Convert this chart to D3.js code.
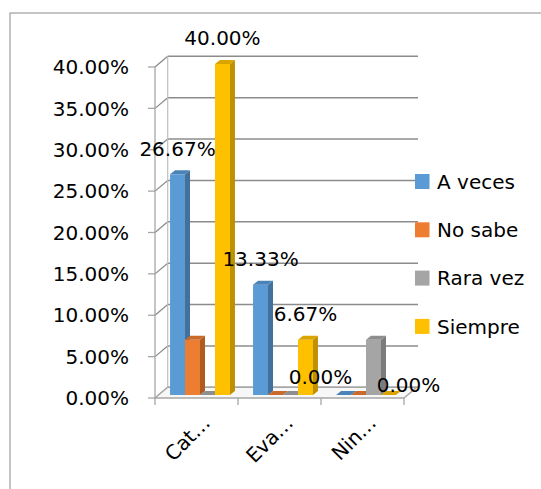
<!DOCTYPE html>
<html>
<head>
<meta charset="utf-8">
<script src="https://cdn.jsdelivr.net/npm/d3@7"></script>
<style>
  body { margin: 0; background: #fff; }
  svg { display: block; font-family: "DejaVu Sans", sans-serif; }
</style>
</head>
<body>
<svg width="541" height="489"></svg>
<script>
// data
let categories = ["Cat\u2026", "Eva\u2026", "Nin\u2026"];
let seriesNames = ["A veces", "No sabe", "Rara vez", "Siempre"];
let aVeces = [26.67, 13.33, 0];
let noSabe = [6.67, 0, 0];
let raraVez = [0, 0, 6.67];
let siempre = [40, 6.67, 0];
let yTicks = [0, 5, 10, 15, 20, 25, 30, 35, 40];

let seriesValues = [aVeces, noSabe, raraVez, siempre];
let labelled = ["A veces", "Siempre"];

let colors = {
  "A veces": ["#5B9BD5", "#41719C", "#4A83B8"],
  "No sabe": ["#ED7D31", "#AE5A21", "#C9692A"],
  "Rara vez": ["#A5A5A5", "#7B7B7B", "#8E8E8E"],
  "Siempre": ["#FFC000", "#BF9000", "#D9A300"]
};

let svg = d3.select("svg");
let fmt = v => d3.format(".2%")(v / 100);

// chart frame (runs off right/bottom)
svg.append("rect")
  .attr("x", 10).attr("y", 13)
  .attr("width", 600).attr("height", 600)
  .attr("fill", "none").attr("stroke", "#a6a6a6").attr("stroke-width", 1.3);

let x = d3.scaleBand().domain(categories).range([155, 404]);
let xs = d3.scaleBand().domain(seriesNames).range([0, x.bandwidth()])
  .paddingInner(0).paddingOuter(0.77);
let y = d3.scaleLinear().domain([0, 40]).range([398, 67]);

let dx = 12.7, dy = -10.7;   // wall depth
let wallRight = 418;
let gridColor = "#8c8c8c";

// back wall gridlines
let walls = svg.append("g");
walls.selectAll(".grid").data(yTicks).enter().append("line")
  .attr("x1", 155 + dx).attr("x2", wallRight)
  .attr("y1", d => y(d) + dy).attr("y2", d => y(d) + dy)
  .attr("stroke", gridColor).attr("stroke-width", 1.6);

// side wall diagonals
walls.selectAll(".side").data(yTicks).enter().append("line")
  .attr("x1", 155).attr("x2", 155 + dx)
  .attr("y1", d => y(d)).attr("y2", d => y(d) + dy)
  .attr("stroke", gridColor).attr("stroke-width", 1.3);

// back wall left edge
walls.append("line")
  .attr("x1", 155 + dx).attr("x2", 155 + dx)
  .attr("y1", y(40) + dy).attr("y2", y(0) + dy)
  .attr("stroke", "#bfbfbf").attr("stroke-width", 1.2);

// front value axis + ticks
walls.append("line")
  .attr("x1", 155).attr("x2", 155)
  .attr("y1", y(40)).attr("y2", y(0))
  .attr("stroke", "#a6a6a6").attr("stroke-width", 1.3);
walls.selectAll(".tick").data(yTicks).enter().append("line")
  .attr("x1", 148).attr("x2", 155)
  .attr("y1", d => y(d)).attr("y2", d => y(d))
  .attr("stroke", "#a6a6a6").attr("stroke-width", 1.3);

// floor
walls.append("path")
  .attr("d", `M155,${y(0)}L404,${y(0)}L${404 + dx},${y(0) + dy}L${155 + dx},${y(0) + dy}Z`)
  .attr("fill", "#f7f7f7").attr("stroke", "#a6a6a6").attr("stroke-width", 1.3);

// category ticks
walls.selectAll(".ctick").data(d3.range(categories.length + 1)).enter().append("line")
  .attr("x1", i => 155 + i * x.step()).attr("x2", i => 155 + i * x.step())
  .attr("y1", y(0)).attr("y2", y(0) + 7)
  .attr("stroke", "#a6a6a6").attr("stroke-width", 1.3);

// y tick labels
svg.selectAll(".ylab").data(yTicks).enter().append("text")
  .attr("x", 129).attr("y", d => y(d))
  .attr("dy", "0.36em")
  .attr("text-anchor", "end")
  .attr("font-size", 20)
  .attr("fill", "#000")
  .text(fmt);

// category labels
svg.selectAll(".clab").data(categories).enter().append("text")
  .attr("transform", d => `translate(${x(d) + x.bandwidth() / 2 + 15},${y(0) + 26}) rotate(-45)`)
  .attr("text-anchor", "end")
  .attr("font-size", 20)
  .attr("fill", "#000")
  .text(d => d);

// bars
let fx = 3.5, fy = -3;  // bar front offset into depth
let bdx = 5, bdy = -4;  // bar depth
let bars = [];
categories.forEach((c, ci) => {
  seriesNames.forEach((s, si) => {
    bars.push({cat: c, series: s, value: seriesValues[si][ci]});
  });
});

let w = xs.bandwidth();
let barG = svg.append("g");
bars.forEach(b => {
  let bx = x(b.cat) + xs(b.series) + fx;
  let y0 = y(0) + fy;
  let yt = y(b.value) + fy;
  let col = colors[b.series];
  let g = barG.append("g");
  if (b.value > 0) {
    g.append("rect")
      .attr("x", bx).attr("y", yt)
      .attr("width", w).attr("height", y0 - yt)
      .attr("fill", col[0]);
    g.append("path")
      .attr("d", `M${bx + w},${yt}L${bx + w + bdx},${yt + bdy}L${bx + w + bdx},${y0 + bdy}L${bx + w},${y0}Z`)
      .attr("fill", col[1]);
  }
  g.append("path")
    .attr("d", `M${bx},${yt}L${bx + bdx},${yt + bdy}L${bx + w + bdx},${yt + bdy}L${bx + w},${yt}Z`)
    .attr("fill", col[2]);
  b.cx = bx + w / 2;
  b.top = yt;
});

// data labels (zero labels get pushed aside like in the original)
let nudge = {"A veces|Nin\u2026": [-23, 8], "Siempre|Nin\u2026": [20, 16]};
svg.selectAll(".dlab").data(bars.filter(b => labelled.includes(b.series))).enter().append("text")
  .attr("x", b => b.cx + (nudge[b.series + "|" + b.cat] || [0, 0])[0])
  .attr("y", b => b.top - 26 + (nudge[b.series + "|" + b.cat] || [0, 0])[1])
  .attr("dy", "0.36em")
  .attr("text-anchor", "middle")
  .attr("font-size", 20)
  .attr("fill", "#000")
  .text(b => fmt(b.value));

// legend
let legend = svg.append("g");
seriesNames.forEach((s, i) => {
  let ly = 181.5 + i * 48.3;
  legend.append("rect")
    .attr("x", 415).attr("y", ly - 7.5)
    .attr("width", 14.5).attr("height", 15)
    .attr("fill", colors[s][0]);
  legend.append("text")
    .attr("x", 437).attr("y", ly)
    .attr("dy", "0.36em")
    .attr("font-size", 20)
    .attr("fill", "#000")
    .text(s);
});
</script>
</body>
</html>
